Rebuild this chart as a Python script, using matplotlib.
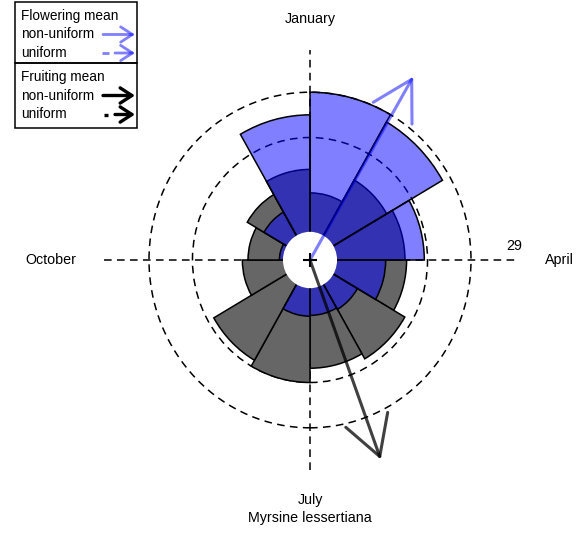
import numpy as np
import matplotlib.pyplot as plt
from matplotlib.patches import Wedge, Circle, Rectangle

plt.rcParams["font.family"] = ["Liberation Sans", "DejaVu Sans"]

# monthly sectors, clockwise from January at the top (degrees)
sector_start = np.arange(0, 360, 30)
sector_width = 30
# sector radii, relative to the outer reference circle
flowering = [1.00, 0.95, 0.71, 0.47, 0.34, 0.33, 0.335, 0.12, 0.12, 0.19, 0.33, 0.865]
fruiting = [0.40, 0.55, 0.59, 0.60, 0.68, 0.645, 0.73, 0.69, 0.42, 0.385, 0.45, 0.54]
ref_circles = [0.73, 1.0]
# mean directions (degrees, clockwise from January)
flowering_mean = 30.4
fruiting_mean = 159.7
month_labels = ["January", "April", "July", "October"]
max_count = "29"
species = "Myrsine lessertiana"

blue = (0, 0, 1, 0.5)
grey = "#666666"
dark = (0, 0, 0, 0.75)

fig = plt.figure(figsize=(5.83, 5.33), dpi=100)
ax = fig.add_axes([0, 0, 1, 1])
# one radial unit = 161 px across, a little more (R device) vertically
ax.set_xlim(-310 / 161, 273 / 161)
ax.set_ylim(-273 / 167.8, 260 / 167.8)
ax.axis("off")

dash = (0, (5, 3.5))

# reference circles and month axes
for r in ref_circles:
    ax.add_patch(Circle((0, 0), r, fill=False, ec="black", lw=1.1, ls=dash, zorder=1))
ax.plot([-1.28, 1.28], [0, 0], color="black", lw=1.1, ls=dash, zorder=1)
ax.plot([0, 0], [-1.25, 1.25], color="black", lw=1.1, ls=dash, zorder=1)


def compass_to_math(deg):
    return 90 - deg


for s, r in zip(sector_start, fruiting):
    ax.add_patch(Wedge((0, 0), r, compass_to_math(s + sector_width), compass_to_math(s),
                       fc=grey, ec="black", lw=1.1, zorder=2))
for s, r in zip(sector_start, flowering):
    ax.add_patch(Wedge((0, 0), r, compass_to_math(s + sector_width), compass_to_math(s),
                       fc=blue, ec="black", lw=1.1, zorder=3))

# hole in the middle
ax.add_patch(Circle((0, 0), 0.168, fc="white", ec="none", zorder=4))

arrow_len = 1.267
for ang, col in [(flowering_mean, blue), (fruiting_mean, dark)]:
    a = np.radians(ang)
    tip = (arrow_len * np.sin(a), arrow_len * np.cos(a))
    ax.annotate("", xy=tip, xytext=(0, 0),
                arrowprops=dict(arrowstyle="->,head_length=2.8,head_width=1.6",
                                mutation_scale=10, lw=2.2, color=col,
                                shrinkA=0, shrinkB=0, capstyle="round",
                                joinstyle="round"), zorder=5)
ax.plot(0, 0, marker="+", ms=10, mew=1.5, color="black", zorder=6)

fs = 10.3
ax.text(0, 1.436, month_labels[0], ha="center", va="center", fontsize=fs)
ax.text(1.547, 0, month_labels[1], ha="center", va="center", fontsize=fs)
ax.text(0, -1.43, month_labels[2], ha="center", va="center", fontsize=fs)
ax.text(-1.609, 0, month_labels[3], ha="center", va="center", fontsize=fs)
ax.text(0, -1.538, species, ha="center", va="center", fontsize=fs)
ax.text(1.267, 0.083, max_count, ha="center", va="center", fontsize=fs)

# legend, laid out in pixels
lax = fig.add_axes([0, 0, 1, 1])
lax.set_xlim(0, 583)
lax.set_ylim(533, 0)
lax.axis("off")
lfs = 9.8
lax.add_patch(Rectangle((15, 2), 122, 61, fill=False, ec="black", lw=1.1))
lax.add_patch(Rectangle((15, 63), 122, 65, fill=False, ec="black", lw=1.1))
rows = [("Flowering mean", 16, None, None),
        ("non-uniform", 34.5, blue, "-"),
        ("uniform", 53, blue, "--"),
        ("Fruiting mean", 77.5, None, None),
        ("non-uniform", 95.5, "black", "-"),
        ("uniform", 114.5, "black", "--")]
for label, y, col, style in rows:
    lax.text(21, y, label, ha="left", va="center", fontsize=lfs)
    if col is None:
        continue
    lw = 2.0 if col is blue else 2.4
    if style == "-":
        start = 103
    else:
        start = 115
        seg = [102, 109] if col is blue else [104, 108]
        lax.plot(seg, [y, y], color=col, lw=lw, solid_capstyle="butt")
    lax.annotate("", xy=(135, y), xytext=(start, y),
                 arrowprops=dict(arrowstyle="->,head_length=0.85,head_width=0.55",
                                 mutation_scale=10, lw=lw, color=col,
                                 shrinkA=0, shrinkB=0))

fig.savefig("out.png", dpi=100)
